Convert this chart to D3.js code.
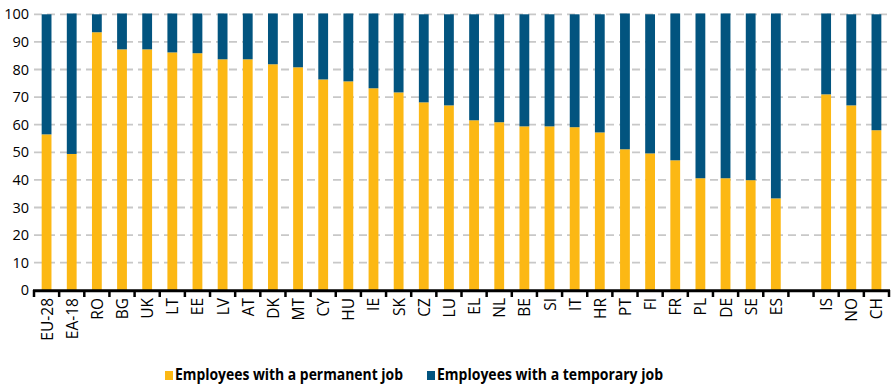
<!DOCTYPE html>
<html>
<head>
<meta charset="utf-8">
<script src="https://cdn.jsdelivr.net/npm/d3@7"></script>
<style>
  html, body { margin: 0; padding: 0; background: #fff; }
  svg { display: block; }
</style>
</head>
<body>
<svg id="chart" width="893" height="385"></svg>
<script>
const categories = ["EU-28","EA-18","RO","BG","UK","LT","EE","LV","AT","DK","MT","CY","HU","IE","SK","CZ","LU","EL","NL","BE","SI","IT","HR","PT","FI","FR","PL","DE","SE","ES","","IS","NO","CH"];
const permanent = [56.5,49.4,93.5,87.3,87.3,86.2,85.9,83.7,83.7,81.9,80.8,76.4,75.7,73.2,71.7,68.1,67.0,61.6,60.9,59.4,59.4,59.1,57.2,51.1,49.6,47.1,40.6,40.6,39.9,33.3,null,71.0,67.0,58.0];
const temporary = [43.5,50.9,6.5,13.0,13.0,14.1,14.4,16.6,16.6,18.4,19.5,23.9,24.6,27.1,28.6,31.9,33.0,38.4,39.1,40.6,40.6,40.9,42.8,49.2,50.4,53.2,59.7,59.7,60.4,67.0,null,29.3,33.0,42.0];
const yTicks = [0,10,20,30,40,50,60,70,80,90,100];
const seriesNames = ["Employees with a permanent job","Employees with a temporary job"];
const colors = ["#fcb814","#02547f"];

const svg = d3.select("#chart");
const x0 = 34, x1 = 889, yBottom = 290.3, yTop = 14.3;

const x = d3.scaleBand().domain(d3.range(categories.length)).range([x0, x1]).paddingInner(0.61).paddingOuter(0.305);
const y = d3.scaleLinear().domain([0, 100]).range([yBottom, yTop]);

// gridlines
svg.append("g").selectAll("line").data(yTicks.filter(d => d > 0)).join("line")
  .attr("x1", x0).attr("x2", x1)
  .attr("y1", d => y(d)).attr("y2", d => y(d))
  .attr("stroke", "#c8c8c8").attr("stroke-width", 1.8)
  .attr("stroke-dasharray", "8,5");

// y labels
svg.append("g").selectAll("text").data(yTicks).join("text")
  .attr("x", 29).attr("y", d => y(d) + 5)
  .attr("text-anchor", "end")
  .attr("font-family", "Open Sans, sans-serif").attr("font-size", 14.5)
  .attr("fill", "#000")
  .text(d => d);

// stacked data
const rows = categories.map((c, i) => ({ i, c, p: permanent[i], t: temporary[i] })).filter(r => r.p != null);
const stack = d3.stack().keys(["p","t"])(rows);

svg.append("g").selectAll("g").data(stack).join("g")
  .attr("fill", (d, k) => colors[k])
  .selectAll("rect").data(d => d).join("rect")
  .attr("x", d => x(d.data.i))
  .attr("width", x.bandwidth())
  .attr("y", d => y(d[1]))
  .attr("height", d => y(d[0]) - y(d[1]));

// x axis
const boundaries = d3.range(categories.length + 1).map(k => x0 + k * x.step());
const ax = svg.append("g");
ax.append("line").attr("x1", x0 - 1).attr("x2", x1 + 1)
  .attr("y1", 290.8).attr("y2", 290.8)
  .attr("stroke", "#000").attr("stroke-width", 3);
ax.selectAll("line.tick").data(boundaries).join("line").attr("class", "tick")
  .attr("x1", d => d).attr("x2", d => d)
  .attr("y1", 290).attr("y2", 297)
  .attr("stroke", "#000").attr("stroke-width", 2.5);

ax.selectAll("text").data(categories.map((c, i) => ({ c, i })).filter(d => d.c !== "")).join("text")
  .attr("transform", d => `translate(${x(d.i) + x.bandwidth() / 2 + 6},298) rotate(-90)`)
  .attr("text-anchor", "end")
  .attr("font-family", "Open Sans, sans-serif").attr("font-size", 15.5)
  .attr("fill", "#000")
  .text(d => d.c);

// legend
const legend = svg.append("g");
const lx = [165, 427];
const tl = [228, 226];
seriesNames.forEach((name, k) => {
  legend.append("rect").attr("x", lx[k]).attr("y", 371).attr("width", 8).attr("height", 9).attr("fill", colors[k]);
  legend.append("text").attr("x", lx[k] + 10).attr("y", 380)
    .attr("font-family", "Open Sans, sans-serif").attr("font-weight", "bold").attr("font-size", 16)
    .attr("textLength", tl[k]).attr("lengthAdjust", "spacingAndGlyphs")
    .attr("fill", "#000").text(name);
});
</script>
</body>
</html>
